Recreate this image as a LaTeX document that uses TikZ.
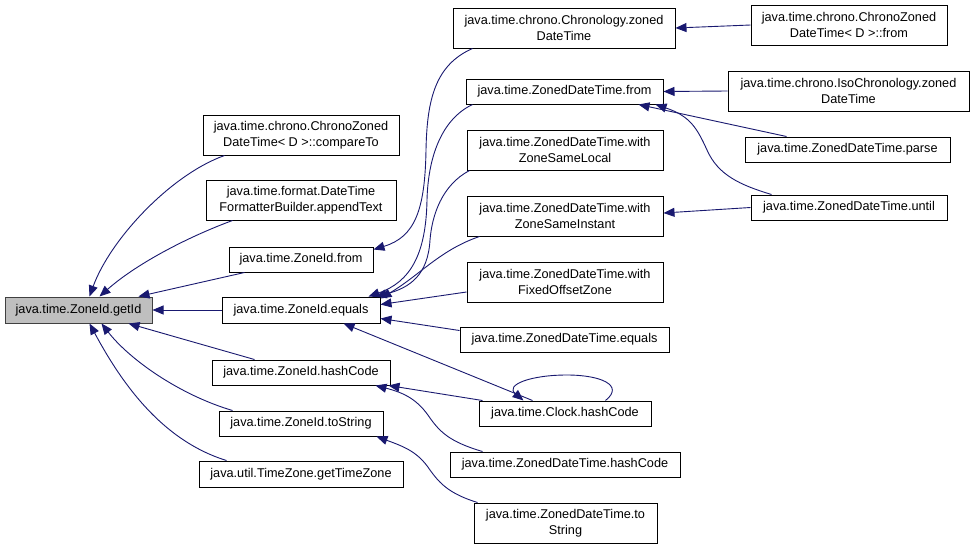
\documentclass[tikz,border=0pt]{standalone}
\usepackage{fontspec}
\setmainfont{Liberation Sans}
\usetikzlibrary{arrows.meta,calc}
\definecolor{edgeblue}{HTML}{191970}
\definecolor{hilite}{HTML}{BFBFBF}
\begin{document}
\begin{tikzpicture}[x=1pt,y=-1pt,
  box/.style={draw=black, line width=1pt, fill=white, inner sep=0pt, align=center,
    font=\fontsize{12.7}{15.5}\selectfont},
  edge/.style={draw=edgeblue, line width=0.9pt, -{Triangle[length=11pt,width=9pt]}}]
\useasboundingbox[fill=white] (0,0) rectangle (975,549);
% column 0
\node[box, fill=hilite, draw=black!75, minimum width=147pt, minimum height=26pt] (getId) at (78.5,310) {java.time.ZoneId.getId};
% column 1
\node[box, minimum width=196pt, minimum height=40pt] (compareTo) at (301,135) {java.time.chrono.ChronoZoned\\DateTime< D >::compareTo};
\node[box, minimum width=190pt, minimum height=40pt] (appendText) at (301,200) {java.time.format.DateTime\\FormatterBuilder.appendText};
\node[box, minimum width=144pt, minimum height=25pt] (zfrom) at (301,259.5) {java.time.ZoneId.from};
\node[box, minimum width=158pt, minimum height=26pt] (zequals) at (301,310) {java.time.ZoneId.equals};
\node[box, minimum width=178pt, minimum height=25pt] (zhash) at (301,372.5) {java.time.ZoneId.hashCode};
\node[box, minimum width=164pt, minimum height=25pt] (ztostr) at (301,423.5) {java.time.ZoneId.toString};
\node[box, minimum width=204pt, minimum height=26pt] (tz) at (301,474) {java.util.TimeZone.getTimeZone};
% column 2
\node[box, minimum width=222pt, minimum height=40pt] (chron) at (564,28) {java.time.chrono.Chronology.zoned\\DateTime};
\node[box, minimum width=197pt, minimum height=25pt] (zdtfrom) at (564.5,91.5) {java.time.ZonedDateTime.from};
\node[box, minimum width=196pt, minimum height=40pt] (zsl) at (565,150) {java.time.ZonedDateTime.with\\ZoneSameLocal};
\node[box, minimum width=196pt, minimum height=40pt] (zsi) at (565,216) {java.time.ZonedDateTime.with\\ZoneSameInstant};
\node[box, minimum width=196pt, minimum height=40pt] (fixed) at (565,282) {java.time.ZonedDateTime.with\\FixedOffsetZone};
\node[box, minimum width=209pt, minimum height=25pt] (zdteq) at (564.5,339.5) {java.time.ZonedDateTime.equals};
\node[box, minimum width=172pt, minimum height=25pt] (clock) at (565,413.5) {java.time.Clock.hashCode};
\node[box, minimum width=230pt, minimum height=25pt] (zdthash) at (565,464.5) {java.time.ZonedDateTime.hashCode};
\node[box, minimum width=183pt, minimum height=40pt] (zdtstr) at (565.5,523) {java.time.ZonedDateTime.to\\String};
% column 3
\node[box, minimum width=196pt, minimum height=40pt] (czfrom) at (849,25) {java.time.chrono.ChronoZoned\\DateTime< D >::from};
\node[box, minimum width=241pt, minimum height=40pt] (iso) at (848.5,91) {java.time.chrono.IsoChronology.zoned\\DateTime};
\node[box, minimum width=205pt, minimum height=25pt] (parse) at (847.5,149.5) {java.time.ZonedDateTime.parse};
\node[box, minimum width=196pt, minimum height=25pt] (until) at (849,207.5) {java.time.ZonedDateTime.until};
% edges into getId
\draw[edge] ($(compareTo.south west)+(22,0)$) .. controls (170,175) and (110,240) .. ($(getId.north west)+(85,0)$);
\draw[edge] ($(appendText.south west)+(27,0)$) .. controls (185,238) and (135,265) .. ($(getId.north west)+(95,0)$);
\draw[edge] ($(zfrom.south west)+(16,0)$) -- ($(getId.north east)+(-14,0)$);
\draw[edge] (zequals.west) -- (getId.east);
\draw[edge] ($(zhash.north west)+(43,0)$) -- ($(getId.south east)+(-24,0)$);
\draw[edge] ($(ztostr.north west)+(14,0)$) .. controls (180,395) and (130,360) .. ($(getId.south west)+(97,0)$);
\draw[edge] ($(tz.north west)+(28,0)$) .. controls (160,440) and (120,380) .. ($(getId.south west)+(85,0)$);
% edges into column 1
\draw[edge] ($(chron.south west)+(20,0)$) .. controls (435,65) and (427,100) .. (426,150) .. controls (425,210) and (415,237) .. ($(zfrom.north east)+(0,3)$);
\draw[edge] ($(zdtfrom.south west)+(7,0)$) .. controls (440,120) and (428,160) .. (427,200) .. controls (426,255) and (410,282) .. ($(zequals.north east)+(-12,0)$);
\draw[edge] ($(zsl.south west)+(3,0)$) .. controls (442,185) and (432,215) .. (430,240) .. controls (428,275) and (410,288) .. ($(zequals.north east)+(-5,0)$);
\draw[edge] ($(zsi.south west)+(13,0)$) .. controls (440,250) and (420,275) .. ($(zequals.north east)+(0,2)$);
\draw[edge] ($(fixed.west)+(0,10)$) -- ($(zequals.north east)+(0,8)$);
\draw[edge] ($(zdteq.north west)+(0,4)$) -- ($(zequals.south east)+(0,-5)$);
\draw[edge] ($(clock.north west)+(54,0)$) -- ($(zequals.south east)+(-37,0)$);
\draw[edge] ($(clock.north west)+(4,0)$) -- ($(zhash.south east)+(-2,0)$);
\draw[edge] ($(zdthash.north west)+(33,0)$) .. controls (450,442) and (440,432) .. (430,418) .. controls (418,400) and (405,393) .. ($(zhash.south east)+(-15,0)$);
\draw[edge] ($(zdtstr.north west)+(4,0)$) .. controls (450,494) and (440,484) .. (430,470) .. controls (418,452) and (405,447) .. ($(ztostr.south east)+(-7,0)$);
\draw[edge] ($(clock.north west)+(127,0)$) .. controls (625,385) and (600,375) .. (567,375) .. controls (530,375) and (505,385) .. ($(clock.north west)+(45,0)$);
% edges into column 2
\draw[edge] (czfrom.west) -- (chron.east);
\draw[edge] (iso.west) -- (zdtfrom.east);
\draw[edge] ($(parse.north west)+(42,0)$) -- ($(zdtfrom.south east)+(-25,0)$);
\draw[edge] ($(until.north west)+(21,0)$) .. controls (740,185) and (718,175) .. (707,150) .. controls (697,128) and (690,116) .. ($(zdtfrom.south east)+(-8,0)$);
\draw[edge] (until.west) -- ($(zsi.east)+(0,-3)$);
\end{tikzpicture}
\end{document}
